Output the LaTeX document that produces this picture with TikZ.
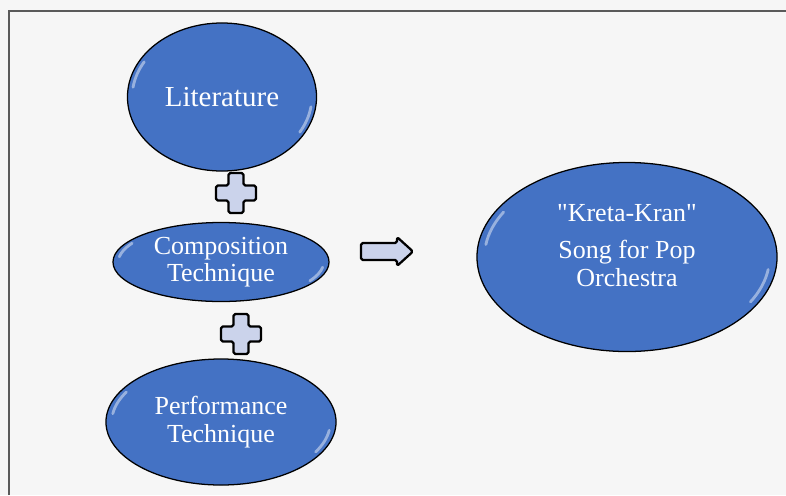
\documentclass[tikz,border=0pt]{standalone}
\usepackage{fontspec}
\setmainfont{Liberation Serif}
\usetikzlibrary{shapes.geometric, positioning, calc}

\definecolor{ovalblue}{HTML}{4472C4}
\definecolor{signfill}{HTML}{CBD3EB}
\definecolor{pagebg}{HTML}{F6F6F6}
\definecolor{framegray}{HTML}{5A5A5A}

% plus sign centred on a named coordinate
\newcommand{\plussign}[1]{%
  \draw[sign] ($(#1)+(-7.5,-20)$) -- ++(15,0) -- ++(0,12.5) -- ++(12.5,0) -- ++(0,15)
    -- ++(-12.5,0) -- ++(0,12.5) -- ++(-15,0) -- ++(0,-12.5) -- ++(-12.5,0)
    -- ++(0,-15) -- ++(12.5,0) -- cycle;}

\begin{document}
\begin{tikzpicture}[
  x=0.025cm, y=-0.025cm,
  oval/.style={ellipse, draw=black, line width=0.9pt, fill=ovalblue, inner sep=0pt,
               text=white, align=center, font=\fontsize{18.5}{19.5}\selectfont,
               path picture={
                 \coordinate (pc) at (path picture bounding box.center);
                 \draw[white, opacity=.45, line width=2pt, line cap=round]
                   let \p1=($(path picture bounding box.north east)-(pc)$) in
                   ($(pc)+(150:0.95*\x1 and 0.95*\y1)$)
                     arc[start angle=150, end angle=172, x radius=0.95*\x1, y radius=0.95*\y1]
                   ($(pc)+(-30:0.95*\x1 and 0.95*\y1)$)
                     arc[start angle=-30, end angle=-8, x radius=0.95*\x1, y radius=0.95*\y1];
               }},
  ovaltext/.style={text=white, align=center, inner sep=0pt, font=\fontsize{18.5}{20}\selectfont},
  sign/.style={draw=black, line width=1.6pt, fill=signfill, rounded corners=1.2pt, line join=round}
]
% page and frame
\useasboundingbox[fill=pagebg] (0,0) rectangle (786,495);
\draw[framegray, line width=0.9pt] (9,495) -- (9,11) -- (786,11);

% inputs
\node[oval, minimum width=4.725cm, minimum height=3.7cm,
      font=\fontsize{20.6}{22}\selectfont] (lit) at (222,97) {Literature};
\node[oval, minimum width=5.4cm, minimum height=1.975cm] (comp) at (221,262)
  {Composition\\Technique};
\node[oval, minimum width=5.75cm, minimum height=3.15cm] (perf) at (221,422)
  {Performance\\Technique};

% result
\node[oval, minimum width=7.5cm, minimum height=4.725cm] (song) at (627,257) {};
\node[ovaltext] (songtext) at ([yshift=8pt]song.center)
  {\textquotedbl Kreta-Kran\textquotedbl\\[6.5pt]Song for Pop\\Orchestra};

% signs
\coordinate (plusA) at (236,193);
\coordinate (plusB) at (241,334);
\plussign{plusA}
\plussign{plusB}

\coordinate (arr) at (361,251.5);
\draw[sign] ($(arr)+(0,-8.5)$) -- ++(36,0) -- ++(0,-6) -- ++(16,14.5) -- ++(-16,14.5)
  -- ++(0,-6) -- ++(-36,0) -- cycle;
\end{tikzpicture}
\end{document}
